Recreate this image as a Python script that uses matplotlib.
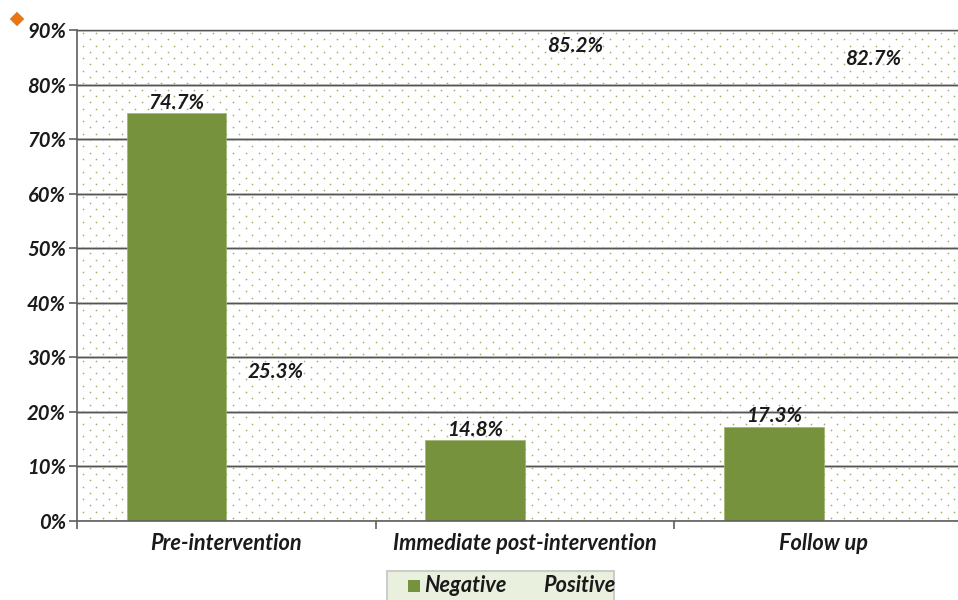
import numpy as np
import matplotlib
matplotlib.use('Agg')
import matplotlib.pyplot as plt
from matplotlib.patches import Rectangle

categories = ['Pre-intervention', 'Immediate post-intervention', 'Follow up']
negative = [74.7, 14.8, 17.3]
positive = [25.3, 85.2, 82.7]
y_ticks = list(range(0, 100, 10))

GREEN = '#76923c'
W, H = 958, 600
plt.rcParams['font.family'] = ['Lato', 'DejaVu Sans']
plt.rcParams['font.style'] = 'italic'
plt.rcParams['font.weight'] = 'bold'

fig = plt.figure(figsize=(W / 100, H / 100), dpi=100)
ax = fig.add_axes([77 / W, 1 - 521 / H, (W - 77) / W, (521 - 30) / H])
ax.set_xlim(-0.5, 2.45)
ax.set_ylim(0, 90)

# dotted background, staggered rows in pixel steps
rows = np.arange(0, 491, 6.3)
px, py = [], []
for i, r in enumerate(rows):
    xs = np.arange(6 if i % 2 else 12.5, W - 77, 13)
    px.extend(xs)
    py.extend([r + 3] * len(xs))
ax.scatter(np.array(px) / (W - 77), np.array(py) / 491, s=1.5, color='#9cb468',
           linewidths=0, transform=ax.transAxes, zorder=1)

ax.yaxis.grid(True, color='#c8c8c8', linewidth=2.0, zorder=2)
ax.set_yticks(y_ticks)
ax.set_yticklabels([f'{v}%' for v in y_ticks], fontsize=14.6, color='#1a1a1a')
for v in y_ticks[1:]:
    ax.axhline(v, color='#555555', linewidth=1.0, zorder=2.1, clip_on=False)

x = np.arange(len(categories))
bar_w = 1 / 3
ax.bar(x - bar_w / 2, negative, bar_w, color=GREEN, edgecolor='#9db56f', linewidth=0.5, zorder=3)
ax.bar(x + bar_w / 2, positive, bar_w, color='none', linewidth=0, zorder=3)

for xi, v in zip(x, negative):
    ax.text(xi - bar_w / 2, v + 0.1, f'{v}%', ha='center', va='bottom', fontsize=14.8, color='#1a1a1a', zorder=4)
for xi, v in zip(x, positive):
    ax.text(xi + bar_w / 2, v + 0.1, f'{v}%', ha='center', va='bottom', fontsize=14.8, color='#1a1a1a', zorder=4)

ax.set_xticks(x - 0.5)
ax.set_xticklabels([])
ax.set_xticks(x, categories, minor=True, fontsize=15.7, color='#1a1a1a')
ax.tick_params(axis='x', which='major', length=6, width=1.2, color='#5f5f5f')
ax.tick_params(axis='x', which='minor', length=0, pad=9)
ax.tick_params(axis='y', length=6, width=1.2, color='#5f5f5f', pad=2)

for s in ['top', 'right']:
    ax.spines[s].set_visible(False)
for s in ['left', 'bottom']:
    ax.spines[s].set_color('#5f5f5f')
    ax.spines[s].set_linewidth(1.2)
    ax.spines[s].set_zorder(5)

# legend by hand: the box is cut off at the bottom and the text runs up to its right edge
fig.add_artist(Rectangle((387 / W, -5 / H), 227 / W, 34 / H, transform=fig.transFigure,
                         facecolor='#e9f0dd', edgecolor='#c4c4c4', linewidth=1.2))
fig.add_artist(Rectangle((408 / W, 1 - 592 / H), 12 / W, 12 / H, transform=fig.transFigure,
                         facecolor=GREEN, edgecolor='none'))
fig.text(424 / W, 1 - 586 / H, 'Negative', fontsize=15.6, color='#1a1a1a', va='center')
fig.text(543 / W, 1 - 586 / H, 'Positive', fontsize=15.6, color='#1a1a1a', va='center')

# small orange marker in the top corner
fig.add_artist(plt.Line2D([17 / W], [1 - 19 / H], marker='D', markersize=7.5, color='#ee7410',
                          markeredgecolor='#b08a6a', markeredgewidth=0.3,
                          transform=fig.transFigure))

fig.savefig('out.png', dpi=100)
